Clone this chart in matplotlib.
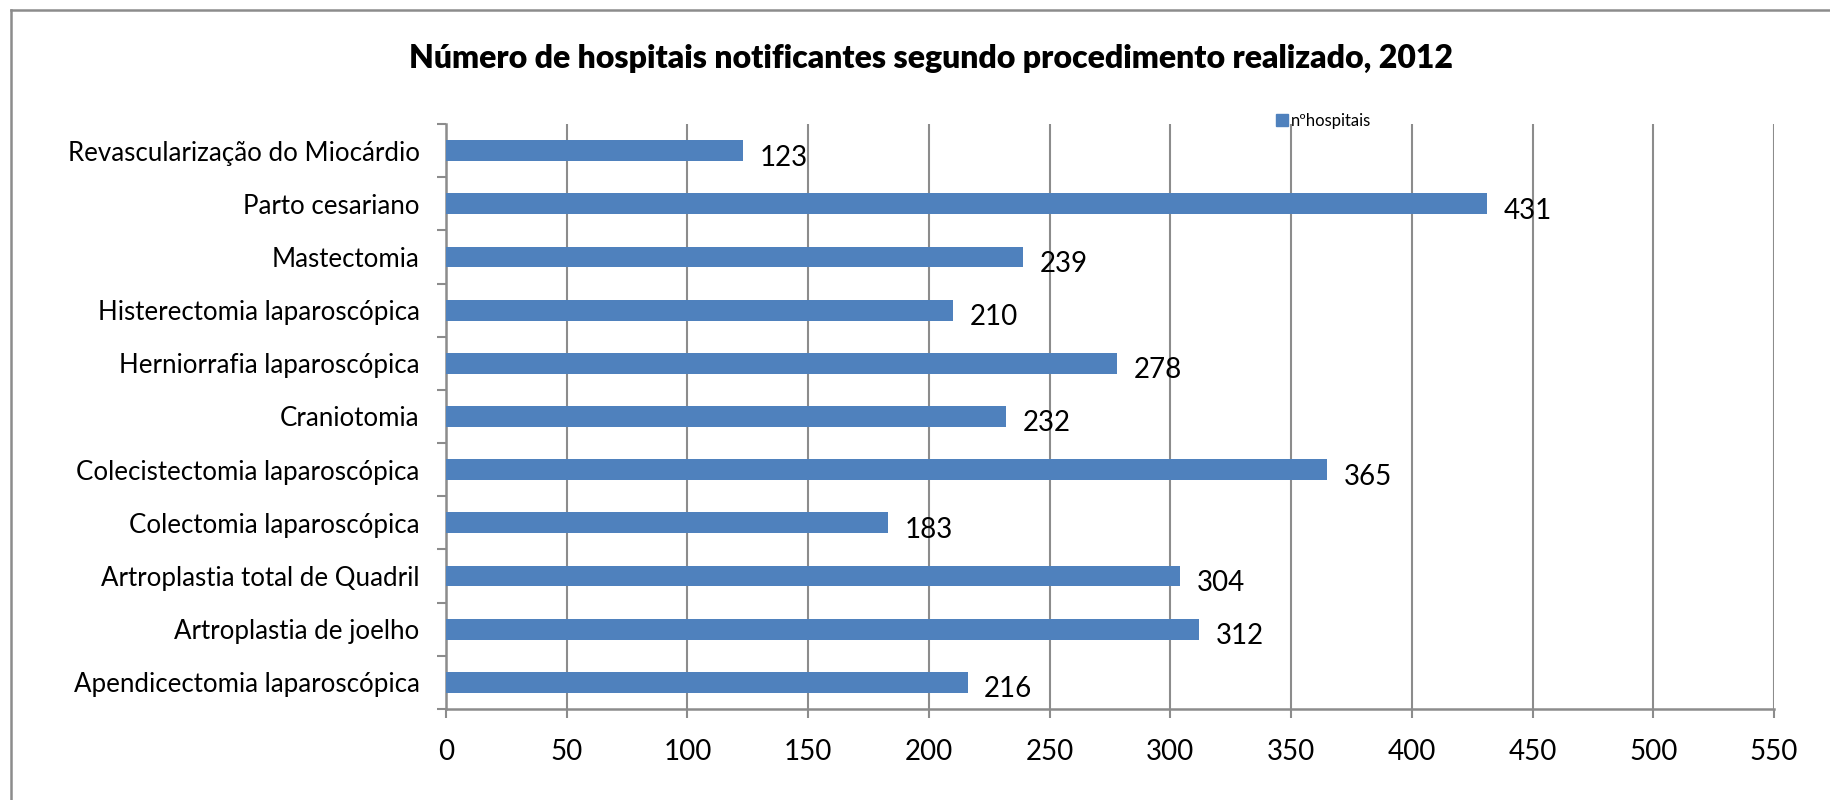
import matplotlib
matplotlib.use('Agg')
import matplotlib.pyplot as plt
from matplotlib.patches import Patch
from matplotlib.lines import Line2D
import numpy as np

# data (bottom to top, as in the chart)
procedures = [
    'Apendicectomia laparoscópica',
    'Artroplastia de joelho',
    'Artroplastia total de Quadril',
    'Colectomia laparoscópica',
    'Colecistectomia laparoscópica',
    'Craniotomia',
    'Herniorrafia laparoscópica',
    'Histerectomia laparoscópica',
    'Mastectomia',
    'Parto cesariano',
    'Revascularização do Miocárdio',
]
n_hospitais = [216, 312, 304, 183, 365, 232, 278, 210, 239, 431, 123]
x_ticks = list(range(0, 551, 50))

plt.rcParams['font.family'] = ['Lato', 'DejaVu Sans']

bar_color = '#4F81BD'
grid_color = '#8C8C8C'

fig = plt.figure(figsize=(18.3, 8.0), dpi=100)
ax = fig.add_axes([446 / 1830, 1 - 709 / 800, (1774 - 446) / 1830, (709 - 124) / 800])

y = np.arange(len(procedures))
ax.barh(y, n_hospitais, height=0.39, color=bar_color, zorder=3)

for yi, v in zip(y, n_hospitais):
    ax.annotate(str(v), (v, yi), xytext=(12, -5), textcoords='offset points',
                ha='left', va='center', fontsize=20)

ax.set_xlim(0, 550)
ax.set_ylim(-0.5, len(procedures) - 0.5)
ax.set_xticks(x_ticks)
ax.set_xticklabels([str(t) for t in x_ticks], fontsize=20)
ax.set_yticks(y)
ax.set_yticklabels(procedures, fontsize=18.6)
ax.set_yticks(np.arange(-0.5, len(procedures), 1), minor=True)

ax.tick_params(axis='y', which='major', length=0, pad=19)
ax.tick_params(axis='y', which='minor', length=6.5, width=1.5, color=grid_color, direction='out')
ax.tick_params(axis='x', length=6.5, width=1.5, color=grid_color, direction='out', pad=15)

ax.grid(axis='x', color=grid_color, linewidth=1.5, zorder=0)
for side in ['top', 'right']:
    ax.spines[side].set_visible(False)
for side in ['left', 'bottom']:
    ax.spines[side].set_color(grid_color)
    ax.spines[side].set_linewidth(1.8)

fig.text(0.509, 1 - 58 / 800, 'Número de hospitais notificantes segundo procedimento realizado, 2012',
         ha='center', va='center', fontsize=23, fontweight='heavy')

fig.legend(handles=[Patch(color=bar_color, label='nºhospitais')], loc='center left',
           bbox_to_anchor=(1268 / 1830, 1 - 121 / 800), frameon=False, fontsize=12,
           handlelength=0.7, handleheight=0.7, handletextpad=0.15, borderpad=0)

# outer chart frame (left and top edges visible)
fig.add_artist(Line2D([10.5 / 1830, 10.5 / 1830], [0, 1 - 9.5 / 800], color=grid_color, linewidth=1.8))
fig.add_artist(Line2D([10.5 / 1830, 1], [1 - 9.5 / 800, 1 - 9.5 / 800], color=grid_color, linewidth=1.8))

fig.savefig('out.png', dpi=100)
